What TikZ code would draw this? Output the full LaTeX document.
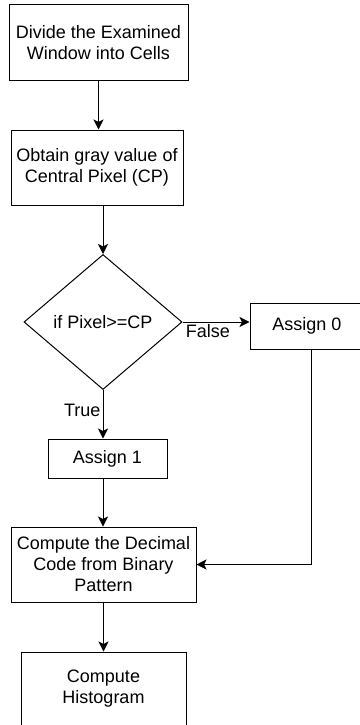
\documentclass[tikz,border=0pt]{standalone}
\usepackage{fontspec}
\setmainfont{Liberation Sans}
\usepackage{tikz}
\usetikzlibrary{positioning, arrows.meta, shapes.geometric}

\tikzset{
    box/.style={draw, line width=1pt, align=center, inner sep=0pt,
        font=\fontsize{18}{21}\selectfont},
    flowarrow/.style={-{Stealth[length=10pt, width=10pt, inset=2.5pt]}, line width=1pt},
}

\begin{document}
\begin{tikzpicture}[x=1pt, y=-1pt]
    \useasboundingbox (0,0) rectangle (359,725);

    % Define nodes
    \node[box, minimum width=179pt, minimum height=76pt] (Div) at (98.5,42.5) {Divide the Examined\\Window into Cells};
    \node[box, minimum width=172pt, minimum height=75pt] (Gray) at (97,167.5) {Obtain gray value of\\Central Pixel (CP)};
    \node[box, diamond, minimum width=158pt, minimum height=135pt] (Cond) at (103,322) {if Pixel>=CP};
    \node[box, minimum width=114pt, minimum height=46pt] (Zero) at (307,326) {Assign 0};
    \node[box, minimum width=119pt, minimum height=39pt] (One) at (107.5,458.5) {Assign 1};
    \node[box, minimum width=185pt, minimum height=75pt] (Dec) at (103.5,564.5) {Compute the Decimal\\Code from Binary\\Pattern};
    \node[box, minimum width=165pt, minimum height=74pt] (Hist) at (103.5,689) {Compute\\Histogram};

    % Draw arrows
    \draw[flowarrow] (Div.south) -- (Div.south |- Gray.north);
    \draw[flowarrow] (Cond.north |- Gray.south) -- (Cond.north);
    \draw[flowarrow] (Cond.east) -- node[below, pos=0.38, inner sep=2pt, font=\fontsize{18}{21}\selectfont] {False} (Cond.east -| Zero.west);
    \draw[flowarrow] (Cond.south) -- node[left, pos=0.42, inner sep=2pt, font=\fontsize{18}{21}\selectfont] {True} (Cond.south |- One.north);
    \draw[flowarrow] (Cond.south |- One.south) -- (Cond.south |- Dec.north);
    \draw[flowarrow] ([xshift=4pt]Zero.south) |- (Dec.east);
    \draw[flowarrow] (Dec.south) -- (Hist.north);
\end{tikzpicture}
\end{document}
